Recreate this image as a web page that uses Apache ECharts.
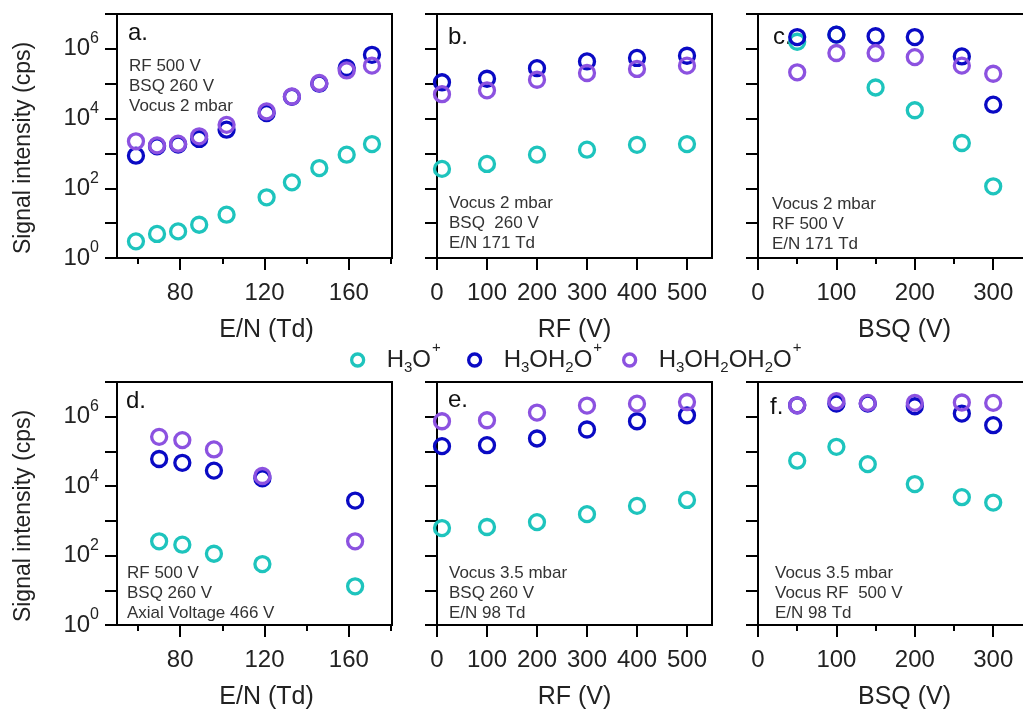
<!DOCTYPE html>
<html>
<head>
<meta charset="utf-8">
<script src="https://cdn.jsdelivr.net/npm/echarts@6/dist/echarts.min.js"></script>
<style>
html,body{margin:0;padding:0;background:#fff;}
#chart{width:1023px;height:711px;}
</style>
</head>
<body>
<div id="chart"></div>
<script>
// ---------- data ----------
var seriesNames = ['H3O+', 'H3OH2O+', 'H3OH2OH2O+'];

var enA = [59, 69, 79, 89, 102, 121, 133, 146, 159, 171];
var aH3O = [3.0, 4.9, 5.8, 9, 17.5, 55, 148, 380, 920, 1860];
var aH3OH2O = [860, 1600, 1800, 2600, 4800, 14400, 42000, 100000, 282000, 676000];
var aH3OH2OH2O = [2230, 1700, 1900, 3100, 6600, 16000, 43000, 105000, 240000, 330000];

var rfB = [10, 100, 200, 300, 400, 500];
var bH3O = [360, 500, 920, 1280, 1770, 1860];
var bH3OH2O = [110000, 139000, 280000, 437000, 550000, 634000];
var bH3OH2OH2O = [50000, 64500, 130000, 203000, 265000, 330000];

var bsqC = [50, 100, 150, 200, 260, 300];
var cH3O = [1600000, 2560000, 78000, 17300, 1990, 114];
var cH3OH2O = [2180000, 2560000, 2300000, 2180000, 605000, 25000];
var cH3OH2OH2O = [212000, 760000, 760000, 580000, 330000, 193000];

var enD = [70, 81, 96, 119, 163];
var dH3O = [257, 206, 113, 57, 13];
var dH3OH2O = [60500, 47000, 28000, 16800, 3850];
var dH3OH2OH2O = [263000, 212000, 114000, 19600, 257];

var rfE = [10, 100, 200, 300, 400, 500];
var eH3O = [620, 665, 920, 1560, 2700, 4000];
var eH3OH2O = [142000, 151000, 236000, 428000, 740000, 1100000];
var eH3OH2OH2O = [740000, 790000, 1320000, 2100000, 2380000, 2650000];

var bsqF = [50, 100, 140, 200, 260, 300];
var fH3O = [54000, 136000, 43000, 11500, 4800, 3370];
var fH3OH2O = [2130000, 2380000, 2380000, 2000000, 1230000, 570000];
var fH3OH2OH2O = [2130000, 2800000, 2500000, 2500000, 2570000, 2500000];

var enTicksMajor = [80, 120, 160];
var enTicksMinor = [60, 100, 140, 180];
var rfTicksMajor = [0, 100, 200, 300, 400, 500];
var bsqTicksMajor = [0, 100, 200, 300];
var bsqTicksMinor = [50, 150, 250];

var xNames = ['E/N (Td)', 'RF (V)', 'BSQ (V)'];
var yName = 'Signal intensity (cps)';
var panelLetters = ['a.', 'b.', 'c.', 'd.', 'e.', 'f.'];
var panelNotes = [
  ['RF 500 V', 'BSQ 260 V', 'Vocus 2 mbar'],
  ['Vocus 2 mbar', 'BSQ  260 V', 'E/N 171 Td'],
  ['Vocus 2 mbar', 'RF 500 V', 'E/N 171 Td'],
  ['RF 500 V', 'BSQ 260 V', 'Axial Voltage 466 V'],
  ['Vocus 3.5 mbar', 'BSQ 260 V', 'E/N 98 Td'],
  ['Vocus 3.5 mbar', 'Vocus RF  500 V', 'E/N 98 Td']
];

// ---------- layout ----------
var FONT = 'Arial, "Liberation Sans", Helvetica, sans-serif';
var colors = ['#1ec4bd', '#0a0ac4', '#8c52e0'];
var rowTops = [14, 382];
var gridH = 244;
var cols = [
  {left: 117, width: 275, min: 50, max: 180.5, major: enTicksMajor, minor: enTicksMinor, box: true, namePad: 24},
  {left: 437, width: 275, min: 0, max: 550, major: rfTicksMajor, minor: [], box: true, namePad: 0},
  {left: 758, width: 265, min: 0, max: 338, major: bsqTicksMajor, minor: bsqTicksMinor, box: false, namePad: 28}
];
var panelX = [enA, rfB, bsqC, enD, rfE, bsqF];
var panelY = [
  [aH3O, aH3OH2O, aH3OH2OH2O],
  [bH3O, bH3OH2O, bH3OH2OH2O],
  [cH3O, cH3OH2O, cH3OH2OH2O],
  [dH3O, dH3OH2O, dH3OH2OH2O],
  [eH3O, eH3OH2O, eH3OH2OH2O],
  [fH3O, fH3OH2O, fH3OH2OH2O]
];

var grids = [], xAxes = [], yAxes = [], series = [], graphics = [];
var notePos = [
  {lx: 128, ly: 33, nx: 129, ny: 65},
  {lx: 448, ly: 37, nx: 449, ny: 202},
  {lx: 773, ly: 37, nx: 772, ny: 203},
  {lx: 126, ly: 401, nx: 127, ny: 572},
  {lx: 448, ly: 400, nx: 449, ny: 572},
  {lx: 770, ly: 407, nx: 775, ny: 572}
];

for (var p = 0; p < 6; p++) {
  var r = Math.floor(p / 3), c = p % 3, col = cols[c];
  grids.push({left: col.left, top: rowTops[r], width: col.width, height: gridH,
    show: col.box, borderColor: '#000', borderWidth: 2, backgroundColor: 'transparent'});
  // major x axis
  xAxes.push({
    type: 'value', gridIndex: p, min: col.min, max: col.max,
    name: xNames[c], nameLocation: 'middle', nameGap: 60,
    nameTextStyle: {fontFamily: FONT, fontSize: 25, color: '#222', padding: [0, 0, 0, col.namePad]},
    axisLine: {show: true, lineStyle: {color: '#000', width: 2}},
    axisTick: {show: true, length: 12, lineStyle: {color: '#000', width: 2}, customValues: col.major},
    axisLabel: {show: true, margin: 23, fontFamily: FONT, fontSize: 24, color: '#222', customValues: col.major},
    splitLine: {show: false}
  });
  // minor x axis
  xAxes.push({
    type: 'value', gridIndex: p, min: col.min, max: col.max, position: 'bottom',
    axisLine: {show: false},
    axisTick: {show: col.minor.length > 0, length: 6, lineStyle: {color: '#000', width: 2},
      customValues: col.minor.length ? col.minor : [col.max + 1000]},
    axisLabel: {show: false},
    splitLine: {show: false}
  });
  // top frame line (for the panels whose right side runs off the page)
  xAxes.push({
    type: 'value', gridIndex: p, min: col.min, max: col.max, position: 'top',
    axisLine: {show: !col.box, lineStyle: {color: '#000', width: 2}},
    axisTick: {show: false}, axisLabel: {show: false}, splitLine: {show: false}
  });
  yAxes.push({
    type: 'log', logBase: 10, gridIndex: p, min: 1, max: 10000000, splitNumber: 7,
    axisLine: {show: true, lineStyle: {color: '#000', width: 2}},
    axisTick: {show: true, length: 12, lineStyle: {color: '#000', width: 2}},
    axisLabel: {
      show: c === 0, margin: 18, fontFamily: FONT, color: '#222',
      formatter: function (v) {
        var e = Math.round(Math.log(v) / Math.LN10);
        if (e % 2 !== 0 || e > 6) return '';
        return '{b|10}{s|' + e + '}';
      },
      rich: {
        b: {fontFamily: FONT, fontSize: 24, color: '#222', lineHeight: 36, verticalAlign: 'middle'},
        s: {fontFamily: FONT, fontSize: 16, color: '#222', lineHeight: 16, verticalAlign: 'top'}
      }
    },
    splitLine: {show: false}
  });
  for (var s = 0; s < 3; s++) {
    var pts = [];
    for (var i = 0; i < panelX[p].length; i++) pts.push([panelX[p][i], panelY[p][s][i]]);
    series.push({
      name: seriesNames[s], type: 'scatter', xAxisIndex: 3 * p, yAxisIndex: p,
      data: pts, symbol: 'circle', symbolSize: 15, color: colors[s],
      itemStyle: {color: 'rgba(255,255,255,0)', borderColor: colors[s], borderWidth: 3.3, opacity: 1},
      emphasis: {disabled: true}, silent: true, animation: false
    });
  }
  graphics.push({type: 'text', x: notePos[p].lx, y: notePos[p].ly, silent: true,
    style: {text: panelLetters[p], font: '24px ' + FONT, fill: '#111', align: 'left', verticalAlign: 'middle', textAlign: 'left', textVerticalAlign: 'middle'}});
  graphics.push({type: 'text', x: notePos[p].nx, y: notePos[p].ny - 9, silent: true,
    style: {text: panelNotes[p].join('\n'), font: '17px ' + FONT, lineHeight: 20, fill: '#333', align: 'left', verticalAlign: 'top', textAlign: 'left', textVerticalAlign: 'top'}});
}
for (var rr = 0; rr < 2; rr++) {
  graphics.push({type: 'text', x: 24, y: rowTops[rr] + 134, rotation: Math.PI / 2, silent: true,
    style: {text: yName, font: '23px ' + FONT, fill: '#222', align: 'center', verticalAlign: 'middle', textAlign: 'center', textVerticalAlign: 'middle'}});
}

var legendRich = {
  n: {fontFamily: FONT, fontSize: 24, color: '#222', lineHeight: 40, verticalAlign: 'middle'},
  sub: {fontFamily: FONT, fontSize: 15, color: '#222', lineHeight: 15, verticalAlign: 'bottom', padding: [0, 0, 5, 0]},
  sup: {fontFamily: FONT, fontSize: 15, color: '#222', lineHeight: 15, verticalAlign: 'top', padding: [0, 0, 0, 1]}
};
var legendLabels = {
  'H3O+': '{n|H}{sub|3}{n|O}{sup|+}',
  'H3OH2O+': '{n|H}{sub|3}{n|OH}{sub|2}{n|O}{sup|+}',
  'H3OH2OH2O+': '{n|H}{sub|3}{n|OH}{sub|2}{n|OH}{sub|2}{n|O}{sup|+}'
};
var legendLeft = [345, 462, 617];
var legends = [];
for (var l = 0; l < 3; l++) {
  legends.push({
    data: [seriesNames[l]], left: legendLeft[l], top: 335, orient: 'horizontal',
    itemWidth: 12, itemHeight: 12, icon: 'circle',
    itemStyle: {color: 'rgba(255,255,255,0)', borderColor: colors[l], borderWidth: 3.3},
    selectedMode: false,
    formatter: function (name) { return legendLabels[name]; },
    textStyle: {fontFamily: FONT, fontSize: 24, color: '#222', padding: [0, 0, 0, 18], rich: legendRich}
  });
}

var chart = echarts.init(document.getElementById('chart'), null, {renderer: 'canvas'});
chart.setOption({
  animation: false,
  backgroundColor: '#fff',
  textStyle: {fontFamily: FONT},
  grid: grids, xAxis: xAxes, yAxis: yAxes, series: series,
  legend: legends, graphic: graphics
});
</script>
</body>
</html>
